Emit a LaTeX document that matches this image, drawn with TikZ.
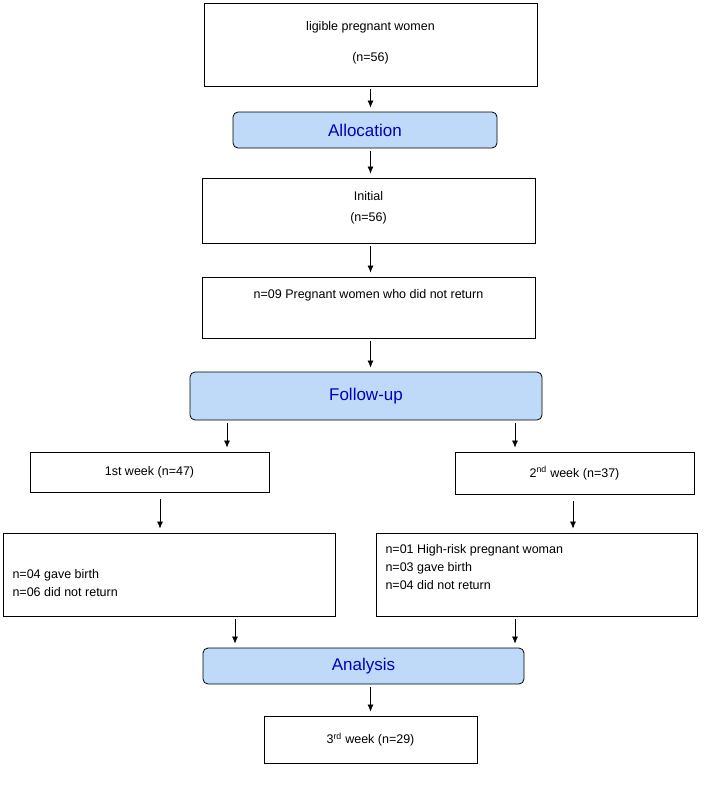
\documentclass[tikz,border=0pt]{standalone}
\usepackage{fontspec}
\setmainfont{Liberation Sans}
\usetikzlibrary{arrows.meta}
\definecolor{hfill}{RGB}{190,218,248}
\begin{document}
\begin{tikzpicture}[x=1pt,y=-1pt,
  txt/.style={font=\fontsize{12.5}{18}\selectfont},
  box/.style={draw,line width=0.8pt,inner sep=0pt,txt},
  head/.style={draw,line width=0.8pt,rounded corners=5pt,fill=hfill,text=blue!75!black,font=\fontsize{17}{20}\selectfont,inner sep=0pt},
  arr/.style={-{Latex[length=7pt,width=6pt]},line width=0.7pt,shorten <=3pt,shorten >=4pt}]
\useasboundingbox (0,0) rectangle (708,800);
\node[box,minimum width=333,minimum height=83] (b1) at (370.5,44.5) {};
\node[txt] (t1) at (370.5,27) {ligible pregnant women};
\node[txt] (t1b) at (370.5,58) {(n=56)};
\node[head,minimum width=264,minimum height=36] (al) at (365,130) {Allocation};
\node[box,minimum width=333,minimum height=65] (b2) at (368.5,210.5) {};
\node[txt] (t2) at (368.5,196) {Initial};
\node[txt] (t2b) at (368.5,218) {(n=56)};
\node[box,minimum width=333,minimum height=61] (b3) at (368.5,307.5) {};
\node[txt] (t3) at (368.5,295) {n=09 Pregnant women who did not return};
\node[head,minimum width=352,minimum height=48] (fu) at (366,396) {Follow-up};
\node[box,minimum width=239,minimum height=40] (w1) at (149.5,472) {1st week (n=47)};
\node[box,minimum width=239,minimum height=42] (w2) at (574.5,473) {2\textsuperscript{nd} week (n=37)};
\node[box,minimum width=332,minimum height=83] (l) at (169,574.5) {};
\node[txt,align=left,anchor=west] (lt) at (9,583) {n=04 gave birth\\n=06 did not return};
\node[box,minimum width=321,minimum height=83] (r) at (536.5,574.5) {};
\node[txt,align=left,anchor=north west] (rt) at (382,541) {n=01 High-risk pregnant woman\\n=03 gave birth\\n=04 did not return};
\node[head,minimum width=321,minimum height=36] (an) at (363.5,666) {Analysis};
\node[box,minimum width=213,minimum height=47] (w3) at (370.5,739.5) {3\textsuperscript{rd} week (n=29)};
\draw[arr] (b1.south) -- (al.north -| b1.south);
\draw[arr] (al.south -| b1.south) -- (b2.north -| b1.south);
\draw[arr] (b2.south -| b1.south) -- (b3.north -| b1.south);
\draw[arr] (b3.south -| b1.south) -- (fu.north -| b1.south);
\coordinate (xa) at (227,0); \coordinate (xb) at (515,0);
\coordinate (xc) at (160,0); \coordinate (xd) at (573,0);
\coordinate (xe) at (235,0);
\draw[arr] (fu.south -| xa) -- (w1.north -| xa);
\draw[arr] (fu.south -| xb) -- (w2.north -| xb);
\draw[arr,shorten <=7pt] (w1.south -| xc) -- (l.north -| xc);
\draw[arr,shorten <=7pt] (w2.south -| xd) -- (r.north -| xd);
\draw[arr] (l.south -| xe) -- (an.north -| xe);
\draw[arr] (r.south -| xb) -- (an.north -| xb);
\draw[arr] (an.south -| b1.south) -- (w3.north);
\end{tikzpicture}
\end{document}
